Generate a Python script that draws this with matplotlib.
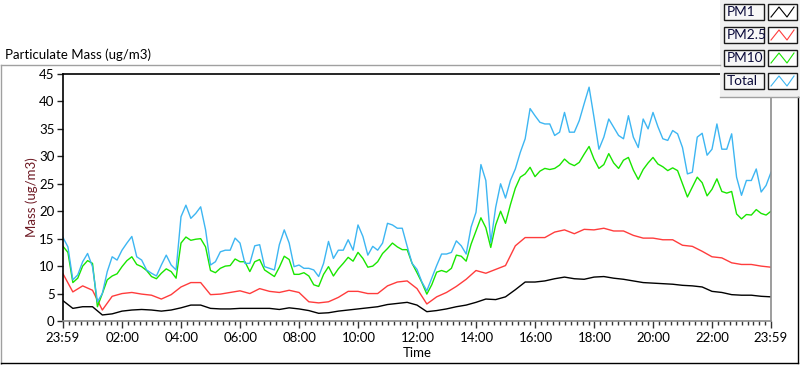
import numpy as np
import matplotlib.pyplot as plt
from matplotlib.lines import Line2D
from matplotlib.patches import Rectangle

plt.rcParams['font.family'] = ['Lato', 'DejaVu Sans']

# time in minutes after 23:59
t_fine = np.arange(0, 1441, 10)
t_coarse = np.arange(0, 1441, 20)

total = [15.2, 13.5, 7.5, 8.4, 10.8, 12.3, 9.9, 3.5, 5.0, 9.0, 11.7, 11.1, 12.9, 14.2, 15.4, 11.7,
         11.1, 9.3, 8.7, 8.2, 10.2, 12.0, 10.2, 9.3, 19.0, 21.1, 18.7, 19.6, 20.8, 16.6, 10.2, 10.8,
         12.6, 12.9, 12.9, 15.1, 14.2, 10.5, 10.5, 13.7, 13.9, 9.9, 9.6, 9.3, 13.9, 16.6, 14.2, 9.9,
         10.2, 9.6, 9.6, 9.3, 8.1, 10.5, 14.5, 11.4, 12.9, 12.9, 14.8, 12.9, 17.5, 15.4, 12.0, 13.6,
         12.9, 14.2, 17.8, 17.5, 16.9, 16.9, 13.6, 10.5, 9.4, 7.1, 5.5, 7.8, 10.1, 12.2, 12.2, 12.5,
         14.6, 13.7, 12.2, 17.1, 19.8, 28.5, 25.6, 14.3, 20.7, 25.0, 22.4, 25.6, 27.7, 30.7, 33.2, 38.7,
         37.4, 36.2, 35.9, 35.9, 33.8, 34.4, 38.0, 34.4, 34.4, 36.5, 39.6, 42.6, 37.1, 31.3, 33.5, 36.8,
         35.3, 33.8, 33.2, 37.4, 33.5, 31.6, 36.8, 35.0, 38.0, 35.4, 33.2, 32.9, 34.7, 34.1, 31.6, 26.8,
         27.1, 33.5, 34.2, 30.2, 31.3, 35.9, 31.3, 31.3, 34.1, 26.2, 22.9, 25.6, 25.6, 27.7, 23.5, 24.7,
         27.1]

pm10 = [13.6, 12.5, 7.0, 7.8, 10.0, 11.0, 10.5, 2.6, 5.0, 7.5, 8.2, 8.6, 9.9, 11.0, 11.7, 10.3,
        9.9, 9.2, 8.1, 7.7, 8.7, 9.5, 9.0, 7.8, 14.2, 15.3, 14.7, 14.9, 15.0, 13.5, 9.2, 8.8,
        9.6, 10.0, 10.1, 11.3, 10.8, 10.8, 9.0, 10.8, 11.2, 9.3, 8.7, 8.1, 9.8, 11.8, 11.2, 8.5,
        8.5, 8.8, 8.2, 6.6, 6.3, 8.5, 9.9, 8.2, 9.5, 10.5, 11.6, 10.9, 12.5, 11.4, 9.8, 10.0,
        10.8, 12.3, 13.2, 14.2, 13.5, 13.0, 13.0, 10.5, 8.8, 7.0, 4.9, 6.6, 8.9, 9.2, 8.9, 9.6,
        12.0, 11.8, 10.9, 14.0, 16.4, 18.8, 17.0, 13.4, 17.5, 20.0, 17.8, 21.2, 24.2, 26.2, 26.8, 28.0,
        26.3, 27.3, 27.8, 27.6, 27.8, 28.4, 29.5, 28.7, 28.3, 28.9, 30.4, 31.8, 29.5, 27.8, 28.5, 30.5,
        28.8, 27.8, 29.3, 29.8, 27.5, 25.8, 27.6, 28.8, 29.8, 28.6, 28.1, 27.4, 27.9, 27.4, 25.0, 22.6,
        24.4, 26.2, 25.2, 22.8, 24.0, 25.9, 23.6, 23.3, 23.6, 19.5, 18.6, 19.4, 19.3, 20.3, 19.6, 19.3,
        20.0]

pm25 = [8.6, 5.3, 6.4, 5.6, 2.0, 4.5, 5.0, 5.2, 4.9, 4.7, 4.0, 4.8, 6.2, 7.0, 7.0, 4.8, 4.9, 5.2, 5.5,
        5.0, 5.9, 5.4, 5.2, 5.6, 5.2, 3.5, 3.3, 3.5, 4.3, 5.4, 5.4, 5.0, 5.0, 6.4, 7.1, 7.3, 5.9,
        3.1, 4.4, 5.2, 6.3, 7.6, 9.2, 8.7, 9.4, 10.1, 13.7, 15.2, 15.2, 15.2, 16.2, 16.6, 15.9, 16.7,
        16.6, 16.9, 16.4, 16.4, 15.6, 15.1, 15.1, 14.8, 14.8, 13.8, 13.6, 12.7, 11.7, 11.5, 10.6, 10.3,
        10.3, 10.0, 9.8]

pm1 = [3.7, 2.3, 2.6, 2.6, 1.1, 1.3, 1.8, 2.0, 2.1, 2.0, 1.8, 2.0, 2.4, 2.9, 2.9, 2.3, 2.2, 2.2, 2.3,
       2.3, 2.3, 2.3, 2.1, 2.4, 2.2, 1.9, 1.4, 1.5, 1.8, 2.0, 2.2, 2.4, 2.6, 3.0, 3.2, 3.4, 2.9,
       1.7, 1.9, 2.2, 2.6, 2.9, 3.4, 4.0, 3.9, 4.4, 5.7, 7.1, 7.1, 7.3, 7.7, 8.0, 7.7, 7.6,
       8.0, 8.1, 7.8, 7.6, 7.3, 7.0, 6.9, 6.8, 6.7, 6.5, 6.4, 6.2, 5.4, 5.2, 4.8, 4.7, 4.7, 4.5, 4.4]

tick_minutes = [0, 121, 241, 361, 481, 601, 721, 841, 961, 1081, 1201, 1321, 1440]
tick_labels = ['23:59', '02:00', '04:00', '06:00', '08:00', '10:00', '12:00',
               '14:00', '16:00', '18:00', '20:00', '22:00', '23:59']
series_names = ['PM1', 'PM2.5', 'PM10', 'Total']
series_colors = ['#000000', '#ff3c3c', '#19e600', '#3db6f2']

W, H = 800, 365
fig = plt.figure(figsize=(W / 100, H / 100), dpi=100)


def fx(x):
    return x / W


def fy(y):
    return 1 - y / H


ax = fig.add_axes([fx(63), fy(321), (771 - 63) / W, (321 - 74) / H])
ax.plot(t_coarse, pm1, color=series_colors[0], lw=1.0)
ax.plot(t_coarse, pm25, color=series_colors[1], lw=1.0)
ax.plot(t_fine, pm10, color=series_colors[2], lw=1.0)
ax.plot(t_fine, total, color=series_colors[3], lw=1.0)

ax.set_xlim(0, 1440)
ax.set_ylim(0, 45)
ax.set_yticks(range(0, 46, 5))
ax.set_xticks(tick_minutes)
ax.set_xticklabels(tick_labels)
minor = []
for a, b in zip(tick_minutes[:-1], tick_minutes[1:]):
    minor += list(np.linspace(a, b, 11)[1:-1])
ax.set_xticks(minor, minor=True)
ax.tick_params(axis='y', length=4, width=1, pad=2, labelsize=9.5, color='#222222')
ax.tick_params(axis='x', which='major', length=5, width=1, pad=3, labelsize=9.5, color='#333333')
ax.tick_params(axis='x', which='minor', length=3, width=1, color='#333333')
for s in ['left', 'top']:
    ax.spines[s].set_color('black')
for s in ['right', 'bottom']:
    ax.spines[s].set_color('#8c8c8c')
for s in ax.spines.values():
    s.set_linewidth(1.2)

ax.set_ylabel('Mass (ug/m3)', color='#6e1a24', fontsize=9.5, labelpad=1)
ax.set_xlabel('Time', fontsize=9.5, labelpad=2)

fig.text(fx(5), fy(55), 'Particulate Mass (ug/m3)', fontsize=9.5, va='center', ha='left')

# outer frame
fig.add_artist(Line2D([fx(0.5), fx(720)], [fy(65), fy(65)], color='#a0a0a0', lw=1))
fig.add_artist(Line2D([fx(0.5), fx(0.5)], [fy(65), fy(364)], color='#a0a0a0', lw=1))
fig.add_artist(Line2D([fx(0.5), fx(798)], [fy(363), fy(363)], color='black', lw=1))
fig.add_artist(Line2D([fx(798), fx(798)], [fy(97), fy(363)], color='black', lw=1))

# legend panel
fig.add_artist(Rectangle((fx(720), fy(97)), 80 / W, 97 / H, facecolor='#f0f0f0',
                         edgecolor='none'))
fig.add_artist(Line2D([fx(720), fx(800)], [fy(97), fy(97)], color='#a0a0a0', lw=1))
row_tops = [4, 27, 50, 73]
for name, col, top in zip(series_names, series_colors, row_tops):
    fig.add_artist(Rectangle((fx(724), fy(top + 16)), 40 / W, 16 / H, facecolor='#f7f7f7',
                             edgecolor='#1a1a1a', lw=1))
    fig.text(fx(726.5), fy(top + 8), name, fontsize=9.8, va='center', ha='left', color='#0a0a3a')
    fig.add_artist(Rectangle((fx(768), fy(top + 16)), 29 / W, 16 / H, facecolor='white',
                             edgecolor='#1a1a1a', lw=1))
    zx = [771, 779, 787, 794]
    zy = [top + 13, top + 3, top + 13, top + 3]
    fig.add_artist(Line2D([fx(v) for v in zx], [fy(v) for v in zy], color=col, lw=0.8))

fig.savefig('out.png', dpi=100, facecolor='white')
